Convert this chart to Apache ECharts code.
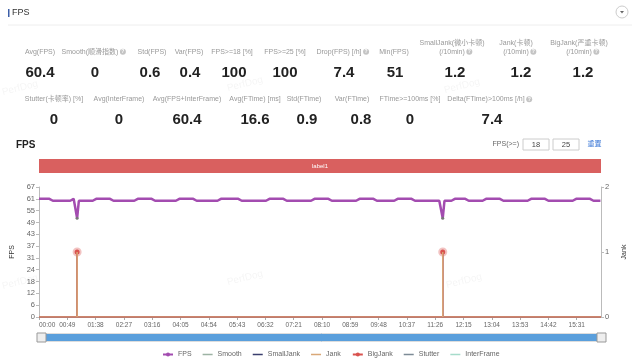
<!DOCTYPE html>
<html><head><meta charset="utf-8">
<script src="https://cdn.jsdelivr.net/npm/echarts@6/dist/echarts.min.js"></script>
<style>html,body{margin:0;padding:0;background:#fff;}#c{width:640px;height:359px;}</style>
</head><body><div id="c"></div>
<script>
// ---------------- data ----------------
const totalSeconds = 973;            // 16:13 of capture
const fpsStep = 3;                   // seconds between FPS samples
const xTickLabels = ['00:00','00:49','01:38','02:27','03:16','04:05','04:54','05:43','06:32','07:21','08:10','08:59','09:48','10:37','11:26','12:15','13:04','13:53','14:42','15:31'];
const fpsValues = [
61,60,61,60,61,60,61,60,60,61,60,61,60,61,60,61,60,61,60,60,61,60,51,60,61,
60,61,60,61,60,61,60,60,61,60,61,60,61,60,61,60,61,60,60,61,60,61,60,61,60,
61,60,61,60,61,60,60,61,60,61,60,61,60,61,60,61,60,60,61,60,61,60,61,60,61,
60,61,60,61,60,60,61,60,61,60,61,60,61,60,61,60,60,61,60,61,60,61,60,61,60,
61,60,61,60,60,61,60,61,60,61,60,61,60,61,60,61,60,60,61,60,61,60,61,60,61,
60,61,60,61,60,61,60,60,61,60,61,60,61,60,61,60,61,60,60,61,60,61,60,61,60,
61,60,61,60,61,60,61,60,60,61,60,61,60,61,60,61,60,61,60,60,61,60,61,60,61,
60,61,60,61,60,61,60,61,60,60,61,60,61,60,61,60,61,60,61,60,60,61,60,61,60,
61,60,61,60,61,60,60,61,60,61,60,61,60,61,60,61,60,60,61,60,61,60,61,60,61,
60,61,60,61,60,61,60,61,51,60,61,60,61,60,60,61,60,61,60,61,60,61,60,60,61,
60,61,60,61,60,61,60,60,61,60,61,60,61,60,61,60,61,60,60,61,60,61,60,61,60,
61,60,61,60,61,60,61,60,60,61,60,61,60,61,60,61,60,61,60,60,61,60,61,60,61,
60,61,60,61,60,61,60,61,60,60,61,60,61,60,61,60,61,60,61,60,60,61,60,61,60];
const jankTimes = [66, 699];
const smallJankCounts = [1, 1];
const jankCounts = [1, 1];
const bigJankCounts = [1, 1];
const smoothValues = [0, 0];
const stutterValues = [0, 0];
const interFrameValues = [0, 0];
const flatTimes = [0, totalSeconds];
const labelStarts = [0];
const labelEnds = [totalSeconds];
const labelNames = ['label1'];
const legendNames = ['FPS','Smooth','SmallJank','Jank','BigJank','Stutter','InterFrame'];

const statLabelsRow1 = ['Avg(FPS)','Smooth(顺滑指数)','Std(FPS)','Var(FPS)','FPS>=18 [%]','FPS>=25 [%]','Drop(FPS) [/h]','Min(FPS)','SmallJank(微小卡顿)\n(/10min)','Jank(卡顿)\n(/10min)','BigJank(严重卡顿)\n(/10min)'];
const statValuesRow1 = ['60.4','0','0.6','0.4','100','100','7.4','51','1.2','1.2','1.2'];
const statHelpRow1 = [false,true,false,false,false,false,true,false,true,true,true];
const statLabelsRow2 = ['Stutter(卡顿率) [%]','Avg(InterFrame)','Avg(FPS+InterFrame)','Avg(FTime) [ms]','Std(FTime)','Var(FTime)','FTime>=100ms [%]','Delta(FTime)>100ms [/h]'];
const statValuesRow2 = ['0','0','60.4','16.6','0.9','0.8','0','7.4'];
const statHelpRow2 = [false,false,false,false,false,false,false,true];

// ---------------- layout ----------------
const row1LabelX = [40,90,152,189,232,285,339,394,452,516,579];
const row1ValueX = [40,95,150,190,234,285,344,395,455,521,583];
const row2LabelX = [54,119,187,255,304,352,410,486];
const row2ValueX = [54,119,187,255,307,361,410,492];
const FONT = '"Liberation Sans","Noto Sans CJK SC",sans-serif';

const mctx = document.createElement('canvas').getContext('2d');
function textW(t, f){ mctx.font = f; return mctx.measureText(t).width; }

const graphics = [];
graphics.push({type:'rect', shape:{x:8,y:9,width:1.5,height:8}, style:{fill:'#3d5fa8'}});
graphics.push({type:'text', x:12, y:13, style:{text:'FPS', font:'9px '+FONT, fill:'#333', verticalAlign:'middle'}});
graphics.push({type:'line', shape:{x1:8,y1:25,x2:632,y2:25}, style:{stroke:'#eee', lineWidth:1}});
graphics.push({type:'circle', shape:{cx:622,cy:12,r:6}, style:{fill:'#fff', stroke:'#ccc', lineWidth:1}});
graphics.push({type:'polygon', shape:{points:[[620,11],[624,11],[622,13.5]]}, style:{fill:'#666'}});

function addStats(labels, values, helps, lx, vx, labelY, valueY){
  const lf = '7px '+FONT;
  labels.forEach((lab,i)=>{
    const lines = lab.split('\n');
    lines.forEach((ln,j)=>{
      const y = labelY - (lines.length-1-j)*9;
      graphics.push({type:'text', x:lx[i], y:y, style:{text:ln, font:lf, fill:'#999', align:'center', verticalAlign:'middle'}});
      if (helps[i] && j === lines.length-1){
        const cx = lx[i] + textW(ln, lf)/2 + 4.5;
        graphics.push({type:'circle', shape:{cx:cx, cy:y, r:3}, style:{fill:'#c4c4c4'}});
        graphics.push({type:'text', x:cx, y:y, style:{text:'?', font:'bold 5px '+FONT, fill:'#fff', align:'center', verticalAlign:'middle'}});
      }
    });
    graphics.push({type:'text', x:vx[i], y:valueY, style:{text:values[i], font:'600 15px '+FONT, fill:'#222', align:'center', verticalAlign:'middle'}});
  });
}
addStats(statLabelsRow1, statValuesRow1, statHelpRow1, row1LabelX, row1ValueX, 51.7, 72.7);
addStats(statLabelsRow2, statValuesRow2, statHelpRow2, row2LabelX, row2ValueX, 99.3, 119.5);

graphics.push({type:'text', x:16, y:145, style:{text:'FPS', font:'bold 10px '+FONT, fill:'#222', verticalAlign:'middle'}});
graphics.push({type:'text', x:519, y:144.5, style:{text:'FPS(>=)', font:'7px '+FONT, fill:'#666', align:'right', verticalAlign:'middle'}});
graphics.push({type:'rect', shape:{x:523,y:139,width:26,height:11}, style:{fill:'#fff', stroke:'#ccc', lineWidth:1}});
graphics.push({type:'text', x:536, y:144.5, style:{text:'18', font:'7.5px '+FONT, fill:'#444', align:'center', verticalAlign:'middle'}});
graphics.push({type:'rect', shape:{x:553,y:139,width:26,height:11}, style:{fill:'#fff', stroke:'#ccc', lineWidth:1}});
graphics.push({type:'text', x:566, y:144.5, style:{text:'25', font:'7.5px '+FONT, fill:'#444', align:'center', verticalAlign:'middle'}});
graphics.push({type:'text', x:594.5, y:144.5, style:{text:'重置', font:'7px '+FONT, fill:'#3b77d6', align:'center', verticalAlign:'middle'}});

[[20,88],[245,84],[462,86],[20,282],[245,278],[464,281]].forEach(p=>{
  graphics.push({type:'text', x:p[0], y:p[1], rotation:0.25, z:100, style:{text:'PerfDog', font:'10px '+FONT, fill:'rgba(0,0,0,0.045)', align:'center', verticalAlign:'middle'}});
});

// ---------------- series data ----------------
const fpsData = fpsValues.map((v,i)=> v < 55
  ? {value:[i*fpsStep, v], symbol:'circle', symbolSize:3, itemStyle:{color:'#777'}}
  : {value:[i*fpsStep, v], symbol:'none'});
function spikeData(times, vals, peakStyle){
  const d = [[0,0]];
  times.forEach((t,i)=>{
    d.push([t,0]);
    d.push(peakStyle ? Object.assign({value:[t, vals[i]]}, peakStyle) : [t, vals[i]]);
    d.push([t,0]);
  });
  d.push([totalSeconds,0]);
  return d;
}
function flatData(vals){ return flatTimes.map((t,i)=>[t, vals[i]]); }

const colors = {FPS:'#a34cb0', Smooth:'#9db3a4', SmallJank:'#3b3f6e', Jank:'#d9a878', BigJank:'#d9534f', Stutter:'#7d8b96', InterFrame:'#a6dccb'};
const barIcon = 'path://M0,0 L0.01,0 L0,0.01 Z M0,1.8 L10,1.8 L10,3.2 L0,3.2 Z M10,5 L9.99,5 L10,4.99 Z';

const option = {
  animation:false,
  backgroundColor:'#fff',
  graphic: graphics,
  grid:[
    {left:39, right:39, top:187, bottom:42},
    {left:39, right:39, top:159, height:14}
  ],
  xAxis:[
    {type:'value', min:0, max:totalSeconds, interval:49, gridIndex:0,
     axisLine:{show:true, lineStyle:{color:'#aaa'}},
     axisTick:{show:true, length:3, lineStyle:{color:'#aaa'}},
     splitLine:{show:false},
     axisLabel:{fontSize:6.5, color:'#666', margin:5, showMaxLabel:false, showMinLabel:true, hideOverlap:false, alignMinLabel:'left', fontFamily:FONT,
       formatter:v=>{const k=Math.round(v/49); return (Math.abs(v-k*49)<0.01 && xTickLabels[k]) ? xTickLabels[k] : '';}}},
    {type:'value', min:0, max:totalSeconds, gridIndex:1, show:false}
  ],
  yAxis:[
    {type:'value', min:0, max:67.1, interval:6.1, gridIndex:0,
     name:'FPS', nameLocation:'middle', nameGap:18, nameTextStyle:{fontSize:7, color:'#333', fontFamily:FONT},
     axisLine:{show:true, lineStyle:{color:'#bbb'}},
     axisTick:{show:true, length:3, lineStyle:{color:'#bbb'}},
     splitLine:{show:false},
     axisLabel:{fontSize:7.5, color:'#666', margin:4, fontFamily:FONT, formatter:v=>String(Math.round(v))}},
    {type:'value', min:0, max:2, interval:1, gridIndex:0, position:'right',
     name:'Jank', nameLocation:'middle', nameGap:13, nameTextStyle:{fontSize:7, color:'#333', fontFamily:FONT},
     axisLine:{show:true, lineStyle:{color:'#bbb'}},
     axisTick:{show:true, length:3, lineStyle:{color:'#bbb'}},
     splitLine:{show:false},
     axisLabel:{fontSize:7.5, color:'#666', margin:4, fontFamily:FONT}},
    {type:'value', min:0, max:1, gridIndex:1, show:false}
  ],
  legend:{
    data: legendNames.map(n => (n==='FPS'||n==='BigJank') ? {name:n} : {name:n, icon:barIcon}),
    left:157, top:346, itemWidth:10, itemHeight:5, itemGap:11,
    textStyle:{fontSize:7, color:'#666', fontFamily:FONT}
  },
  dataZoom:[{
    type:'slider', xAxisIndex:0, filterMode:'none', left:39, right:39, top:333, height:9,
    start:0, end:100, showDetail:false, showDataShadow:false, brushSelect:false,
    backgroundColor:'#fff', borderColor:'#ddd', fillerColor:'#5a9fdc',
    moveHandleSize:0, moveHandleStyle:{opacity:0},
    handleIcon:'path://M0,0 L10,0 L10,10 L0,10 Z',
    handleSize:'100%', handleStyle:{color:'#eee', borderColor:'#999', borderWidth:1},
    dataBackground:{lineStyle:{opacity:0}, areaStyle:{opacity:0}}
  }],
  series:[
    {name:'FPS', type:'line', xAxisIndex:0, yAxisIndex:0, data:fpsData, symbol:'circle', symbolSize:4,
     showAllSymbol:true, color:colors.FPS, lineStyle:{width:2.5, color:colors.FPS}, itemStyle:{color:colors.FPS}, z:6},
    {name:'Smooth', type:'line', xAxisIndex:0, yAxisIndex:0, data:flatData(smoothValues), symbol:'none', color:colors.Smooth, lineStyle:{width:1.5}},
    {name:'SmallJank', type:'line', xAxisIndex:0, yAxisIndex:1, data:spikeData(jankTimes, smallJankCounts), symbol:'none', color:colors.SmallJank, lineStyle:{width:1}},
    {name:'Jank', type:'line', xAxisIndex:0, yAxisIndex:1, data:spikeData(jankTimes, jankCounts), symbol:'none', color:colors.Jank, lineStyle:{width:1}, z:5},
    {name:'BigJank', type:'line', xAxisIndex:0, yAxisIndex:1, symbol:'circle', symbolSize:4, showSymbol:true, showAllSymbol:true,
     data:spikeData(jankTimes, bigJankCounts, {symbol:'circle', symbolSize:5, itemStyle:{color:'#d9534f', borderColor:'rgba(217,83,79,0.35)', borderWidth:4}}).map(d=>Array.isArray(d)?{value:d, symbol:'none'}:d),
     color:colors.BigJank, lineStyle:{width:1.5}, itemStyle:{color:colors.BigJank}, z:4},
    {name:'Stutter', type:'line', xAxisIndex:0, yAxisIndex:0, data:flatData(stutterValues), symbol:'none', color:colors.Stutter, lineStyle:{width:1.5}},
    {name:'InterFrame', type:'line', xAxisIndex:0, yAxisIndex:0, data:flatData(interFrameValues), symbol:'none', color:colors.InterFrame, lineStyle:{width:1.5}, z:1},
    {name:'label', type:'custom', xAxisIndex:1, yAxisIndex:2, data: labelStarts.map((s,i)=>[s, labelEnds[i]]),
     renderItem:(params, api)=>{
       const p0 = api.coord([api.value(0), 1]);
       const p1 = api.coord([api.value(1), 0]);
       return {type:'group', children:[
         {type:'rect', shape:{x:p0[0], y:p0[1], width:p1[0]-p0[0], height:p1[1]-p0[1]}, style:{fill:'#d9605f'}},
         {type:'text', x:(p0[0]+p1[0])/2, y:(p0[1]+p1[1])/2, style:{text:labelNames[params.dataIndex], font:'6px '+FONT, fill:'#fff', align:'center', verticalAlign:'middle'}}
       ]};
     }}
  ]
};
const chart = echarts.init(document.getElementById('c'), null, {renderer:'canvas'});
chart.setOption(option);
</script>
</body></html>
